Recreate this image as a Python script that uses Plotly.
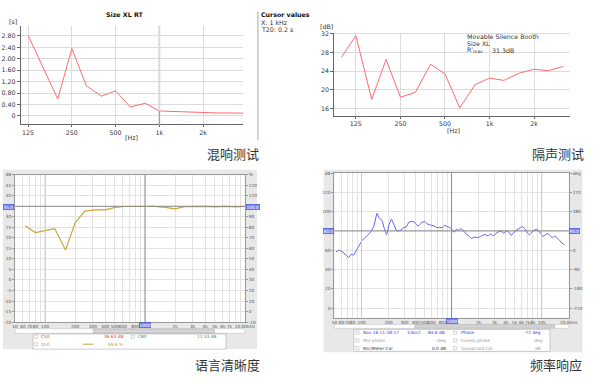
import math
import plotly.graph_objects as go

W, H = 600, 383
def px(x): return x / W
def py(y): return 1 - y / H

# ---------------- data ----------------
# Panel 1: reverberation time (T20, s)
rt_freq = [125, 200, 250, 315, 400, 500, 630, 800, 1000, 1250, 1600, 2000, 2500, 3150, 4000]
rt_t20 = [2.82, 0.59, 2.36, 1.05, 0.69, 0.875, 0.31, 0.44, 0.17, 0.15, 0.13, 0.11, 0.10, 0.10, 0.09]
rt_xticks = [125, 250, 500, 1000, 2000]
rt_xtext = ["125", "250", "500", "1k", "2k"]
rt_yticks = [0, 0.4, 0.8, 1.2, 1.6, 2.0, 2.4, 2.8]
rt_ytext = ["0", "0.40", "0.80", "1.20", "1.60", "2.00", "2.40", "2.80"]

# Panel 2: sound insulation (dB)
ins_freq = [100, 125, 160, 200, 250, 315, 400, 500, 630, 800, 1000, 1250, 1600, 2000, 2500, 3150]
ins_db = [27.0, 31.6, 17.9, 26.5, 18.4, 19.4, 25.5, 23.4, 16.1, 21.1, 22.5, 22.0, 23.6, 24.4, 24.1, 25.0]
ins_xticks = [125, 250, 500, 1000, 2000]
ins_xtext = ["125", "250", "500", "1k", "2k"]
ins_yticks = [16, 20, 24, 28, 32]

# Panel 3: speech clarity (D50 curve, left scale)
d50_freq = [63, 80, 100, 125, 160, 200, 250, 315, 400, 500, 630, 800, 1000, 1250, 1600, 2000,
            2500, 3150, 4000, 5000, 6300, 8000, 10000]
d50_val = [25.8, 22.5, 23.4, 24.4, 14.2, 27.2, 32.7, 33.3, 33.3, 34.5, 34.9, 35.0, 35.0, 35.0,
           34.5, 33.8, 34.8, 35.0, 35.0, 34.7, 35.0, 34.7, 35.0]
cl_xticks = [50, 60, 70, 80, 90, 100, 200, 300, 400, 500, 600, 700, 800, 900, 1000,
             2000, 3000, 4000, 5000, 6000, 7000, 8000, 9000, 10000]
cl_xtext = ["50", "60", "70", "80", "", "100", "200", "300", "400", "500", "600", "", "800", "", "",
            "2k", "3k", "4k", "5k", "6k", "7k", "", "", "10.00kHz"]
cl_yticks = [-20, -15, -10, -5, 0, 5, 10, 15, 20, 25, 30, 35, 40, 45, 50]
cl_ytext = ["-20", "-15", "-10", "-5", "0", "5", "10", "15", "20", "25", "30", "", "40", "45", "dB"]
cl_y2ticks = [-10, 0, 10, 20, 30, 40, 50, 60, 70, 80, 90, 100, 110, 120, 130]
cl_y2text = ["-10", "0", "10", "20", "30", "40", "50", "60", "70", "80", "90", "", "110", "120", "%"]

# Panel 4: frequency response (dB SPL)
fr_freq = [52, 57, 64, 72, 77, 82, 87, 93, 102, 116, 128, 137, 149, 156, 168, 178, 190, 200, 215, 228,
           247, 270, 292, 312, 338, 368, 392, 425, 462, 502, 532, 565, 601, 642, 687, 739, 783, 837, 892, 967,
           1026, 1068, 1131, 1188, 1255, 1342, 1458, 1557, 1675, 1775, 1914, 2085, 2196, 2373, 2536, 2711,
           2873, 3065, 3300, 3569, 3810, 4037, 4310, 4598, 4876, 5291, 5740, 6127, 6487, 6869, 7332, 7828,
           8287, 8773, 9205, 9745, 10317, 11013, 11754, 12444, 13174, 14062, 15010, 15889, 16820, 17820]
fr_db = [58.4, 60.1, 57.0, 52.6, 56.0, 55.0, 59.4, 63.9, 70.4, 75.2, 79.7, 85.1, 98.2, 93.7, 91.3, 83.4,
         76.2, 85.1, 92.0, 86.9, 80.0, 80.7, 83.4, 84.1, 89.3, 90.0, 88.6, 85.1, 88.6, 89.6, 87.5, 86.5,
         85.8, 85.1, 83.4, 83.8, 83.1, 85.8, 84.5, 83.1, 80.7, 78.6, 81.7, 80.7, 82.4, 80.7, 76.6, 74.9,
         72.1, 73.8, 73.1, 74.2, 75.5, 76.2, 74.9, 76.9, 74.9, 76.9, 79.0, 79.7, 77.6, 80.0, 79.0, 75.5,
         78.3, 81.0, 83.1, 84.5, 82.4, 78.3, 76.2, 79.0, 81.0, 81.7, 80.3, 77.6, 74.2, 76.2, 77.3, 74.9,
         73.1, 74.9, 72.1, 70.1, 67.3, 65.9]
fr_xticks = [50, 60, 70, 80, 90, 100, 200, 300, 400, 500, 600, 700, 800, 900, 1000,
             2000, 3000, 4000, 5000, 6000, 7000, 8000, 9000, 10000, 20000]
fr_xtext = ["50", "60", "70", "80", "", "100", "200", "300", "400", "500", "600", "", "800", "", "",
            "2k", "3k", "4k", "5k", "6k", "7k", "8k", "", "10k", "20.0kHz"]
fr_yticks = [0, 20, 40, 60, 80, 100, 120, 140]
fr_ytext = ["0", "20", "40", "60", "", "100", "120", "dB"]
fr_y2ticks = [-270, -180, -90, 0, 90, 180, 270, 360]
fr_y2text = ["-270", "-180", "-90", "0", "", "180", "270", "deg"]

# ---------------- figure ----------------
fig = go.Figure()
fig.add_trace(go.Scatter(x=rt_freq, y=rt_t20, xaxis="x", yaxis="y", mode="lines",
                         line=dict(color="#ff6b6b", width=1), hoverinfo="skip"))
fig.add_trace(go.Scatter(x=ins_freq, y=ins_db, xaxis="x2", yaxis="y2", mode="lines",
                         line=dict(color="#ff6b6b", width=1), hoverinfo="skip"))
fig.add_trace(go.Scatter(x=d50_freq, y=d50_val, xaxis="x3", yaxis="y3", mode="lines",
                         line=dict(color="#c9a43a", width=1.2), hoverinfo="skip"))
fig.add_trace(go.Scatter(x=[], y=[], xaxis="x3", yaxis="y5", mode="lines", hoverinfo="skip"))
fig.add_trace(go.Scatter(x=fr_freq, y=fr_db, xaxis="x4", yaxis="y4", mode="lines",
                         line=dict(color="#5a5af0", width=1, shape="spline", smoothing=0.6),
                         hoverinfo="skip"))
fig.add_trace(go.Scatter(x=[], y=[], xaxis="x4", yaxis="y6", mode="lines", hoverinfo="skip"))

TOPF = dict(family="DejaVu Sans", size=6.3, color="#333")
SMALLF = dict(family="DejaVu Sans", size=4.3, color="#555")
L = math.log10

def top_x(domain, rng, tv, tt):
    return dict(domain=domain, type="log", range=rng, tickvals=tv, ticktext=tt,
                showgrid=True, gridcolor="#dcdcdc", gridwidth=1, showline=True, linecolor="#666",
                ticks="outside", ticklen=2, tickcolor="#666", tickfont=TOPF, zeroline=False)

def top_y(domain, rng, tv, tt):
    return dict(domain=domain, range=rng, tickvals=tv, ticktext=tt,
                showgrid=True, gridcolor="#dcdcdc", showline=True, linecolor="#666",
                ticks="outside", ticklen=3, tickcolor="#666", tickfont=TOPF, zeroline=False)

def bot_x(domain, rng, tv, tt):
    return dict(domain=domain, type="log", range=rng, tickvals=tv, ticktext=tt,
                showgrid=True, gridcolor="#e2e2e2", showline=True, linecolor="#999", mirror=True,
                ticks="", tickfont=SMALLF, zeroline=False, tickangle=0)

def bot_y(domain, rng, tv, tt, side="left", overlay=None, anchor=None, grid=True):
    d = dict(domain=domain, range=rng, tickvals=tv, ticktext=tt, side=side,
             showgrid=grid, gridcolor="#e2e2e2", showline=True, linecolor="#999",
             ticks="outside", ticklen=2, tickcolor="#999", tickfont=SMALLF, zeroline=False)
    if overlay:
        d["overlaying"] = overlay
    if anchor:
        d["anchor"] = anchor
    return d

layout = dict(
    width=W, height=H, margin=dict(l=0, r=0, t=0, b=0),
    paper_bgcolor="white", plot_bgcolor="rgba(0,0,0,0)", showlegend=False,
    xaxis=top_x([px(18.3), px(246)], [L(111.5), L(3778)], rt_xticks, rt_xtext) | dict(anchor="y"),
    yaxis=top_y([py(124), py(24)], [-0.30, 3.16], rt_yticks, rt_ytext) | dict(anchor="x"),
    xaxis2=top_x([px(339.3), px(581)], [L(89.5), L(3526)], ins_xticks, ins_xtext) | dict(anchor="y2"),
    yaxis2=top_y([py(115.3), py(31)], [14.39, 32.28], ins_yticks, [str(v) for v in ins_yticks]) | dict(anchor="x2"),
    xaxis3=bot_x([px(12.3), px(247.7)], [L(50), L(10000)], cl_xticks, cl_xtext) | dict(anchor="y3"),
    yaxis3=bot_y([py(324.3), py(175)], [-20, 50], cl_yticks, cl_ytext, anchor="x3"),
    yaxis5=bot_y([py(324.3), py(175)], [-10, 130], cl_y2ticks, cl_y2text, side="right",
                 overlay="y3", anchor="x3", grid=False),
    xaxis4=bot_x([px(339.3), px(579.3)], [L(50), L(20000)], fr_xticks, fr_xtext) | dict(anchor="y4"),
    yaxis4=bot_y([py(320), py(173.3)], [-10, 140], fr_yticks, fr_ytext, anchor="x4"),
    yaxis6=bot_y([py(320), py(173.3)], [-315, 360], fr_y2ticks, fr_y2text, side="right",
                 overlay="y4", anchor="x4", grid=False),
)
fig.update_layout(**layout)

shapes = []
def prect(x0, y0, x1, y1, fill, line=None, lw=0.6):
    shapes.append(dict(type="rect", xref="paper", yref="paper", x0=px(x0), x1=px(x1),
                       y0=py(y1), y1=py(y0), fillcolor=fill,
                       line=dict(color=line or fill, width=lw if line else 0), layer="below"))

# gray instrument windows + white plot areas
prect(0, 170, 260, 351.7, "#e8e8e8")
prect(12.3, 175, 247.7, 324.3, "white")
prect(328.3, 170, 593.3, 355, "#e8e8e8")
prect(339.3, 173.3, 579.3, 320, "white")
# scroll bars
prect(12.3, 331, 247.7, 335.7, "white", "#b8b8b8", 0.5)
prect(92.3, 331.3, 216.7, 335.4, "#d4d4d4", "#b0b0b0", 0.5)
prect(339.3, 326.7, 579.3, 330.7, "white", "#b8b8b8", 0.5)
prect(421.7, 327, 565, 330.4, "#d4d4d4", "#b0b0b0", 0.5)
# legend boxes
prect(30.7, 336.3, 228.3, 351.7, "white", "#aaaaaa", 0.6)
prect(359.3, 331.7, 560, 354, "white", "#aaaaaa", 0.6)
# checkboxes
for (x, y) in [(34, 339.3), (34, 346.7), (133, 339.3)]:
    prect(x - 1.5, y - 1.5, x + 1.5, y + 1.5, "white", "#999", 0.4)
for (x, y) in [(363, 335), (363, 343), (363, 350.7), (463, 335), (463, 343), (463, 350.7)]:
    prect(x - 1.6, y - 1.6, x + 1.6, y + 1.6, "white", "#999", 0.4)
# separator next to cursor values
shapes.append(dict(type="line", xref="paper", yref="paper", x0=px(261), x1=px(261),
                   y0=py(140), y1=py(10), line=dict(color="#c4c4c4", width=1.5)))
# D50 legend line sample
shapes.append(dict(type="line", xref="paper", yref="paper", x0=px(81.7), x1=px(92.7),
                   y0=py(346.7), y1=py(346.7), line=dict(color="#c9a43a", width=1)))

# cursor / emphasised lines
shapes.append(dict(type="line", xref="x", yref="y domain", x0=1000, x1=1000, y0=0, y1=1,
                   line=dict(color="#ddd6dd", width=2)))
shapes.append(dict(type="line", xref="x", yref="y", x0=1000, x1=1000, y0=-0.30, y1=0.17,
                   line=dict(color="#b58ab5", width=1)))
shapes.append(dict(type="line", xref="x3", yref="y3 domain", x0=100, x1=100, y0=0, y1=1,
                   line=dict(color="#c8c8c8", width=1)))
shapes.append(dict(type="line", xref="x3", yref="y3 domain", x0=1000, x1=1000, y0=0, y1=1,
                   line=dict(color="#8a8a8a", width=1)))
shapes.append(dict(type="line", xref="x3 domain", yref="y3", x0=0, x1=1, y0=35, y1=35,
                   line=dict(color="#8a8a8a", width=1)))
shapes.append(dict(type="line", xref="x4", yref="y4 domain", x0=100, x1=100, y0=0, y1=1,
                   line=dict(color="#c8c8c8", width=1)))
shapes.append(dict(type="line", xref="x4", yref="y4 domain", x0=10000, x1=10000, y0=0, y1=1,
                   line=dict(color="#c8c8c8", width=1)))
shapes.append(dict(type="line", xref="x4", yref="y4 domain", x0=1000, x1=1000, y0=0, y1=1,
                   line=dict(color="#8a8a8a", width=1)))
shapes.append(dict(type="line", xref="x4 domain", yref="y4", x0=0, x1=1, y0=80, y1=80,
                   line=dict(color="#8a8a8a", width=1)))
fig.update_layout(shapes=shapes)

ann = []
def txt(x, y, s, font, xanchor="left", **kw):
    ann.append(dict(x=px(x), y=py(y), xref="paper", yref="paper", text=s, showarrow=False,
                    xanchor=xanchor, yanchor="middle", font=font, **kw))

F7 = dict(family="DejaVu Sans", size=6.3, color="#333")
F7b = dict(family="DejaVu Sans", size=6.3, color="#111")
txt(124, 13, "<b>Size XL RT</b>", F7b, "center")
txt(4, 20, "[s]", F7)
txt(131.7, 137.5, "[Hz]", F7, "center")
txt(262, 13, "<b>Cursor values</b>", F7b)
txt(262, 20.5, "X: 1 kHz", F7)
txt(262, 28, "T20: 0.2 s", F7)

txt(331, 25, "[dB]", F7, "center")
txt(461, 130, "[Hz]", F7, "center")
txt(472.7, 34.7, "Movable Silence Booth", F7)
txt(472.7, 42, "Size XL", F7)
txt(472.7, 49, "R'<sub>max</sub>", F7)
txt(498.7, 49, "31.3dB", F7)

CAP = dict(family="Noto Sans CJK SC", size=13, color="#333")
txt(235, 153, "混响测试", CAP, "center")
txt(568, 153, "隔声测试", CAP, "center")
txt(230, 367.5, "语言清晰度", CAP, "center")
txt(566, 367.5, "频率响应", CAP, "center")

# highlighted cursor readouts on the axes
HL = dict(family="DejaVu Sans", size=4.3, color="white")
def hl(x, y, s, xanchor):
    ann.append(dict(x=px(x), y=py(y), xref="paper", yref="paper", text=s, showarrow=False,
                    xanchor=xanchor, yanchor="middle", font=HL, bgcolor="#7383ee",
                    bordercolor="#3949c9", borderwidth=0.5, borderpad=0))
hl(11.5, 207.7, "35.0", "right")
hl(248.5, 207.7, "100.0", "left")
hl(145.4, 326.8, "1000", "center")
hl(338.5, 231.7, "80.0", "right")
hl(580, 231.7, "90.0", "left")
hl(459.3, 323, "1000", "center")

# legend texts
RED = dict(family="DejaVu Sans", size=4.3, color="#e04040")
GRN = dict(family="DejaVu Sans", size=4.3, color="#30a030")
GLD = dict(family="DejaVu Sans", size=4.3, color="#c9a43a")
BLU = dict(family="DejaVu Sans", size=4.3, color="#3a3ae0")
GRY = dict(family="DejaVu Sans", size=4.3, color="#999")
DRK = dict(family="DejaVu Sans", size=4.3, color="#333")
txt(37, 339.3, "C50", RED)
txt(101.7, 339.3, "36.63 dB", RED)
txt(136.5, 339.3, "C80", GRN)
txt(197, 339.3, "11.53 dB", GRN)
txt(37, 346.7, "D50", GLD)
txt(105, 346.7, "99.8 %", GLD)

txt(366.5, 335, "Nov 16 11:58:17", BLU)
txt(412, 335, "1/6oct", BLU)
txt(433, 335, "84.6 dB", BLU)
txt(466.5, 335, "Phase", BLU)
txt(531, 335, "-72 deg", BLU)
txt(366.5, 343, "Min phase", GRY)
txt(441.5, 343, "-deg", GRY)
txt(466.5, 343, "Excess phase", GRY)
txt(541, 343, "-deg", GRY)
txt(366.5, 350.7, "Mic/Meter Cal", DRK)
txt(437, 350.7, "0.0 dB", DRK)
txt(466.5, 350.7, "Soundcard Cal", GRY)
txt(543, 350.7, "dB", GRY)
fig.update_layout(annotations=ann)

fig.write_html("out.html", config={"displayModeBar": False},
               post_script="document.body.style.margin='0';document.body.style.overflow='hidden';")
